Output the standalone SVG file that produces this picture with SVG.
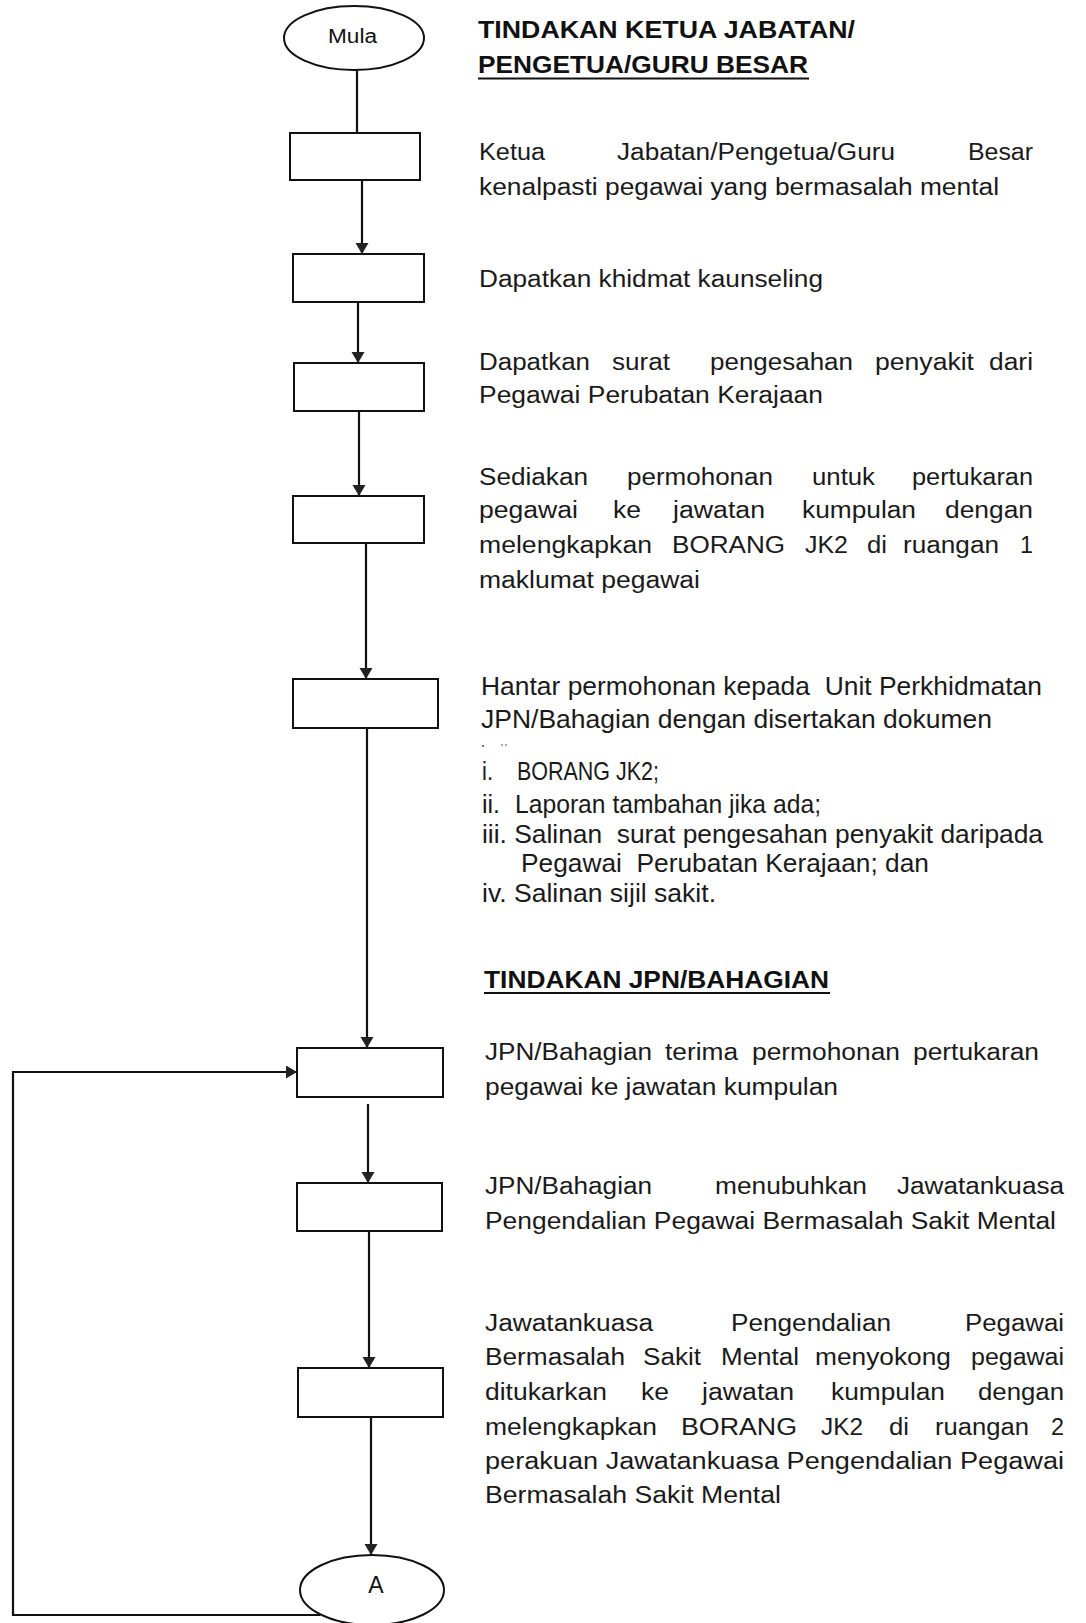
<svg xmlns="http://www.w3.org/2000/svg" width="1086" height="1623" viewBox="0 0 1086 1623">
  <style>
    .node { fill: #ffffff; stroke: #111111; stroke-width: 2; }
    .conn { fill: none; stroke: #111111; stroke-width: 2.2; }
    .lbl { font-family: "Liberation Sans", Arial, sans-serif; fill: #111111; }
    .body { font-family: "Liberation Sans", Arial, sans-serif; font-size: 23px; fill: #1a1a1a; }
    .list { font-family: "Liberation Sans", Arial, sans-serif; font-size: 26px; fill: #1a1a1a; }
    .head { font-family: "Liberation Sans", Arial, sans-serif; font-size: 23px; font-weight: bold; fill: #111111; }
    .uline { stroke: #111111; stroke-width: 2.2; }
  </style>
  <defs>
    <marker id="arrow" markerUnits="userSpaceOnUse" markerWidth="14" markerHeight="14" refX="11" refY="6.5" orient="auto">
      <path d="M0,0 L11,6.5 L0,13 z" fill="#222222"/>
    </marker>
  </defs>
  <rect width="1086" height="1623" fill="#ffffff"/>

  <!-- connectors -->
  <g id="connectors">
    <path class="conn" d="M357,70 L357,133"/>
    <path class="conn" d="M362,180 L362,254" marker-end="url(#arrow)"/>
    <path class="conn" d="M358,302 L358,363" marker-end="url(#arrow)"/>
    <path class="conn" d="M359,411 L359,496" marker-end="url(#arrow)"/>
    <path class="conn" d="M366,543 L366,679" marker-end="url(#arrow)"/>
    <path class="conn" d="M367,728 L367,1048" marker-end="url(#arrow)"/>
    <path class="conn" d="M368,1104 L368,1183" marker-end="url(#arrow)"/>
    <path class="conn" d="M369,1231 L369,1368" marker-end="url(#arrow)"/>
    <path class="conn" d="M371,1417 L371,1555" marker-end="url(#arrow)"/>
    <path class="conn" d="M320,1615 L13,1615 L13,1072 L297,1072" marker-end="url(#arrow)"/>
  </g>

  <!-- flow nodes -->
  <g id="node-mula">
    <ellipse class="node" cx="354" cy="38" rx="70" ry="32"/>
    <text class="lbl" x="328" y="43" font-size="20" textLength="49" lengthAdjust="spacingAndGlyphs">Mula</text>
  </g>
  <g id="node-1"><rect class="node" x="290" y="133" width="130" height="47"/></g>
  <g id="node-2"><rect class="node" x="293" y="254" width="131" height="48"/></g>
  <g id="node-3"><rect class="node" x="294" y="363" width="130" height="48"/></g>
  <g id="node-4"><rect class="node" x="293" y="496" width="131" height="47"/></g>
  <g id="node-5"><rect class="node" x="293" y="679" width="145" height="49"/></g>
  <g id="node-6"><rect class="node" x="297" y="1048" width="146" height="49"/></g>
  <g id="node-7"><rect class="node" x="297" y="1183" width="145" height="48"/></g>
  <g id="node-8"><rect class="node" x="298" y="1368" width="145" height="49"/></g>
  <g id="node-a">
    <ellipse class="node" cx="372" cy="1590" rx="72" ry="35"/>
    <text class="lbl" x="376" y="1593" font-size="23" text-anchor="middle">A</text>
  </g>

  <!-- section 1 heading -->
  <g id="heading-1">
    <text class="head" x="478" y="38" textLength="377" lengthAdjust="spacingAndGlyphs">TINDAKAN KETUA JABATAN/</text>
    <text class="head" x="478" y="73" textLength="330" lengthAdjust="spacingAndGlyphs">PENGETUA/GURU BESAR</text>
    <line class="uline" x1="478" y1="78.5" x2="809" y2="78.5"/>
  </g>

  <!-- step descriptions, section 1 -->
  <g id="text-1">
    <text class="body" x="479" y="160" textLength="66" lengthAdjust="spacingAndGlyphs">Ketua</text>
    <text class="body" x="617" y="160" textLength="278" lengthAdjust="spacingAndGlyphs">Jabatan/Pengetua/Guru</text>
    <text class="body" x="968" y="160" textLength="65" lengthAdjust="spacingAndGlyphs">Besar</text>
    <text class="body" x="479" y="195" textLength="520" lengthAdjust="spacingAndGlyphs">kenalpasti pegawai yang bermasalah mental</text>
  </g>
  <g id="text-2">
    <text class="body" x="479" y="287" textLength="344" lengthAdjust="spacingAndGlyphs">Dapatkan khidmat kaunseling</text>
  </g>
  <g id="text-3">
    <text class="body" x="479" y="370" textLength="111" lengthAdjust="spacingAndGlyphs">Dapatkan</text>
    <text class="body" x="612" y="370" textLength="58" lengthAdjust="spacingAndGlyphs">surat</text>
    <text class="body" x="710" y="370" textLength="143" lengthAdjust="spacingAndGlyphs">pengesahan</text>
    <text class="body" x="875" y="370" textLength="99" lengthAdjust="spacingAndGlyphs">penyakit</text>
    <text class="body" x="989" y="370" textLength="44" lengthAdjust="spacingAndGlyphs">dari</text>
    <text class="body" x="479" y="403" textLength="344" lengthAdjust="spacingAndGlyphs">Pegawai Perubatan Kerajaan</text>
  </g>
  <g id="text-4">
    <text class="body" x="479" y="485" textLength="109" lengthAdjust="spacingAndGlyphs">Sediakan</text>
    <text class="body" x="627" y="485" textLength="146" lengthAdjust="spacingAndGlyphs">permohonan</text>
    <text class="body" x="812" y="485" textLength="63" lengthAdjust="spacingAndGlyphs">untuk</text>
    <text class="body" x="912" y="485" textLength="121" lengthAdjust="spacingAndGlyphs">pertukaran</text>
    <text class="body" x="479" y="518" textLength="99" lengthAdjust="spacingAndGlyphs">pegawai</text>
    <text class="body" x="613" y="518" textLength="28" lengthAdjust="spacingAndGlyphs">ke</text>
    <text class="body" x="673" y="518" textLength="92" lengthAdjust="spacingAndGlyphs">jawatan</text>
    <text class="body" x="802" y="518" textLength="114" lengthAdjust="spacingAndGlyphs">kumpulan</text>
    <text class="body" x="945" y="518" textLength="88" lengthAdjust="spacingAndGlyphs">dengan</text>
    <text class="body" x="479" y="553" textLength="173" lengthAdjust="spacingAndGlyphs">melengkapkan</text>
    <text class="body" x="672" y="553" textLength="113" lengthAdjust="spacingAndGlyphs">BORANG</text>
    <text class="body" x="805" y="553" textLength="43" lengthAdjust="spacingAndGlyphs">JK2</text>
    <text class="body" x="867" y="553" textLength="20" lengthAdjust="spacingAndGlyphs">di</text>
    <text class="body" x="903" y="553" textLength="96" lengthAdjust="spacingAndGlyphs">ruangan</text>
    <text class="body" x="1020" y="553" textLength="13" lengthAdjust="spacingAndGlyphs">1</text>
    <text class="body" x="479" y="588" textLength="221" lengthAdjust="spacingAndGlyphs">maklumat pegawai</text>
  </g>
  <g id="text-5">
    <text class="list" x="481" y="695" textLength="561" lengthAdjust="spacingAndGlyphs" xml:space="preserve">Hantar permohonan kepada  Unit Perkhidmatan</text>
    <text class="list" x="481" y="728" textLength="511" lengthAdjust="spacingAndGlyphs">JPN/Bahagian dengan disertakan dokumen</text>
    <circle cx="483" cy="746" r="1" fill="#444444"/>
    <circle cx="502" cy="745" r="0.8" fill="#444444"/>
    <circle cx="506" cy="745" r="0.8" fill="#444444"/>
    <text class="list" x="482" y="780" textLength="11" lengthAdjust="spacingAndGlyphs">i.</text>
    <text class="list" x="517" y="780" textLength="142" lengthAdjust="spacingAndGlyphs">BORANG JK2;</text>
    <text class="list" x="482" y="813" textLength="18" lengthAdjust="spacingAndGlyphs">ii.</text>
    <text class="list" x="515" y="813" textLength="306" lengthAdjust="spacingAndGlyphs">Laporan tambahan jika ada;</text>
    <text class="list" x="482" y="843" textLength="561" lengthAdjust="spacingAndGlyphs" xml:space="preserve">iii. Salinan  surat pengesahan penyakit daripada</text>
    <text class="list" x="521" y="872" textLength="408" lengthAdjust="spacingAndGlyphs" xml:space="preserve">Pegawai  Perubatan Kerajaan; dan</text>
    <text class="list" x="482" y="902" textLength="234" lengthAdjust="spacingAndGlyphs">iv. Salinan sijil sakit.</text>
  </g>

  <!-- section 2 heading -->
  <g id="heading-2">
    <text class="head" x="484" y="988" textLength="345" lengthAdjust="spacingAndGlyphs">TINDAKAN JPN/BAHAGIAN</text>
    <line class="uline" x1="484" y1="993" x2="830" y2="993"/>
  </g>

  <!-- step descriptions, section 2 -->
  <g id="text-6">
    <text class="body" x="485" y="1060" textLength="167" lengthAdjust="spacingAndGlyphs">JPN/Bahagian</text>
    <text class="body" x="665" y="1060" textLength="73" lengthAdjust="spacingAndGlyphs">terima</text>
    <text class="body" x="752" y="1060" textLength="148" lengthAdjust="spacingAndGlyphs">permohonan</text>
    <text class="body" x="913" y="1060" textLength="126" lengthAdjust="spacingAndGlyphs">pertukaran</text>
    <text class="body" x="485" y="1095" textLength="353" lengthAdjust="spacingAndGlyphs">pegawai ke jawatan kumpulan</text>
  </g>
  <g id="text-7">
    <text class="body" x="485" y="1194" textLength="167" lengthAdjust="spacingAndGlyphs">JPN/Bahagian</text>
    <text class="body" x="715" y="1194" textLength="152" lengthAdjust="spacingAndGlyphs">menubuhkan</text>
    <text class="body" x="897" y="1194" textLength="167" lengthAdjust="spacingAndGlyphs">Jawatankuasa</text>
    <text class="body" x="485" y="1229" textLength="571" lengthAdjust="spacingAndGlyphs">Pengendalian Pegawai Bermasalah Sakit Mental</text>
  </g>
  <g id="text-8">
    <text class="body" x="485" y="1331" textLength="168" lengthAdjust="spacingAndGlyphs">Jawatankuasa</text>
    <text class="body" x="731" y="1331" textLength="160" lengthAdjust="spacingAndGlyphs">Pengendalian</text>
    <text class="body" x="965" y="1331" textLength="99" lengthAdjust="spacingAndGlyphs">Pegawai</text>
    <text class="body" x="485" y="1365" textLength="140" lengthAdjust="spacingAndGlyphs">Bermasalah</text>
    <text class="body" x="643" y="1365" textLength="58" lengthAdjust="spacingAndGlyphs">Sakit</text>
    <text class="body" x="721" y="1365" textLength="78" lengthAdjust="spacingAndGlyphs">Mental</text>
    <text class="body" x="815" y="1365" textLength="136" lengthAdjust="spacingAndGlyphs">menyokong</text>
    <text class="body" x="971" y="1365" textLength="93" lengthAdjust="spacingAndGlyphs">pegawai</text>
    <text class="body" x="485" y="1400" textLength="122" lengthAdjust="spacingAndGlyphs">ditukarkan</text>
    <text class="body" x="641" y="1400" textLength="28" lengthAdjust="spacingAndGlyphs">ke</text>
    <text class="body" x="702" y="1400" textLength="92" lengthAdjust="spacingAndGlyphs">jawatan</text>
    <text class="body" x="831" y="1400" textLength="114" lengthAdjust="spacingAndGlyphs">kumpulan</text>
    <text class="body" x="978" y="1400" textLength="86" lengthAdjust="spacingAndGlyphs">dengan</text>
    <text class="body" x="485" y="1435" textLength="172" lengthAdjust="spacingAndGlyphs">melengkapkan</text>
    <text class="body" x="681" y="1435" textLength="116" lengthAdjust="spacingAndGlyphs">BORANG</text>
    <text class="body" x="821" y="1435" textLength="42" lengthAdjust="spacingAndGlyphs">JK2</text>
    <text class="body" x="889" y="1435" textLength="20" lengthAdjust="spacingAndGlyphs">di</text>
    <text class="body" x="935" y="1435" textLength="94" lengthAdjust="spacingAndGlyphs">ruangan</text>
    <text class="body" x="1051" y="1435" textLength="13" lengthAdjust="spacingAndGlyphs">2</text>
    <text class="body" x="485" y="1469" textLength="579" lengthAdjust="spacingAndGlyphs">perakuan Jawatankuasa Pengendalian Pegawai</text>
    <text class="body" x="485" y="1503" textLength="296" lengthAdjust="spacingAndGlyphs">Bermasalah Sakit Mental</text>
  </g>
</svg>
